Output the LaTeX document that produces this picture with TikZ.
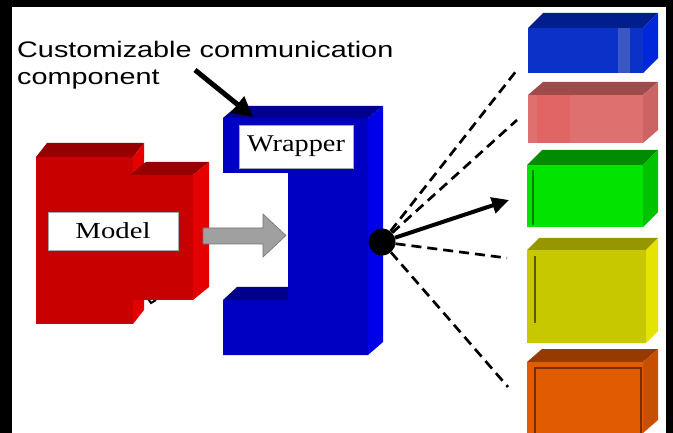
\documentclass[tikz,border=0pt]{standalone}
\usepackage{fontspec}
\usepackage{graphicx}
\setmainfont{Liberation Serif}
\newfontfamily\capfont{Liberation Sans}
\usetikzlibrary{arrows.meta}

% face colours: front / top / side
\definecolor{wrapfront}{RGB}{0,0,195}
\definecolor{wraptop}{RGB}{0,0,140}
\definecolor{wrapside}{RGB}{0,0,232}
\definecolor{modfront}{RGB}{200,0,0}
\definecolor{modtop}{RGB}{150,0,0}
\definecolor{modside}{RGB}{228,0,0}
\definecolor{bxafront}{RGB}{10,50,200}
\definecolor{bxatop}{RGB}{0,30,140}
\definecolor{bxaside}{RGB}{0,40,218}
\definecolor{bxbfront}{RGB}{222,112,112}
\definecolor{bxbtop}{RGB}{160,75,75}
\definecolor{bxbside}{RGB}{205,100,100}
\definecolor{bxcfront}{RGB}{0,228,0}
\definecolor{bxctop}{RGB}{0,140,0}
\definecolor{bxcside}{RGB}{0,195,0}
\definecolor{bxdfront}{RGB}{200,200,0}
\definecolor{bxdtop}{RGB}{150,150,0}
\definecolor{bxdside}{RGB}{228,228,0}
\definecolor{bxefront}{RGB}{225,92,0}
\definecolor{bxetop}{RGB}{150,58,0}
\definecolor{bxeside}{RGB}{198,80,0}
\definecolor{pushgray}{RGB}{160,160,160}

% a slab seen from upper right: #1,#2 front top-left; #3,#4 front bottom-right;
% #5,#6 depth offset; #7 colour prefix
\newcommand\slab[7]{%
  \fill[#7top] (#1,#2) -- ++(#5,-#6) -- ({#3+#5},{#2-#6}) -- (#3,#2) -- cycle;
  \fill[#7side] (#3,#2) -- ({#3+#5},{#2-#6}) -- ({#3+#5},{#4-#6}) -- (#3,#4) -- cycle;
  \fill[#7front] (#1,#2) rectangle (#3,#4);
}

\begin{document}
\begin{tikzpicture}[x=1pt,y=-1pt,
  labelbox/.style={draw=black!35,line width=0.6pt,fill=white,inner sep=0pt},
  captext/.style={anchor=base west,inner sep=0pt,font=\capfont\fontsize{22.5}{27}\selectfont},
  dashline/.style={line width=2.7pt,dash pattern=on 10pt off 6pt},
  boldarrow/.style={line width=4pt,-{Triangle[length=17pt,width=16pt]}},
  caparrow/.style={line width=5pt,-{Triangle[length=20pt,width=20pt]}}]
\useasboundingbox (0,0) rectangle (673,433);
\fill[black] (0,0) rectangle (673,433);
\fill[white] (12,7) rectangle (666,433);

% ---- model: two overlapping red slabs
\slab{36}{157}{133}{324}{11}{14}{mod}
\draw[line width=2pt] (146,296) -- (151,303) -- (156,300);
\slab{130}{175}{193}{300}{16}{13}{mod}
\node[labelbox,minimum width=130pt,minimum height=38pt] (model) at (113,231)
  {\scalebox{1.25}[1]{\fontsize{23}{27}\selectfont Model}};

% ---- grey push arrow from model into the wrapper
\fill[pushgray,draw=black!55,line width=0.6pt]
  (203,228) -- (263,228) -- (263,214) -- (286,235.5) -- (263,257) -- (263,244) -- (203,244) -- cycle;

% ---- wrapper: C-shaped blue block
\fill[wraptop] (223,118) -- (237,106) -- (383,106) -- (368,118) -- cycle;
\fill[wrapside] (368,118) -- (383,106) -- (383,342) -- (368,355) -- cycle;
\fill[wrapfront] (223,118) -- (368,118) -- (368,355) -- (223,355) -- (223,300)
  -- (288,300) -- (288,173) -- (223,173) -- cycle;
\fill[wraptop] (223,300) -- (237,287) -- (288,287) -- (288,300) -- cycle;
\node[labelbox,minimum width=114pt,minimum height=43pt] (wrapper) at (296,146.5)
  {\scalebox{1.18}[1]{\fontsize{24}{28}\selectfont Wrapper}};

% ---- caption and its pointer
\node[captext] (capA) at (17,58) {\scalebox{1.28}[1]{Customizable communication}};
\node[captext] (capB) at (17,85) {\scalebox{1.28}[1]{component}};
\coordinate (capfrom) at (195,70);
\coordinate (captip) at (253,117);
\draw[caparrow] (capfrom) -- (captip);

% ---- coloured target slabs
\slab{528}{28}{643}{73}{15}{15}{bxa}
\fill[black!10!bxafront!80!white] (618,28) rectangle (630,73);
\slab{528}{95}{643}{143}{15}{13}{bxb}
\fill[bxbfront!90!red] (537,95) rectangle (570,143);
\slab{527}{165}{643}{227}{15}{15}{bxc}
\draw[black!45!bxcfront,line width=1.2pt] (533,170) -- (533,225);
\slab{527}{250}{646}{343}{12}{12}{bxd}
\draw[black!55!bxdfront,line width=1.2pt] (535,256) -- (535,323);
\slab{527}{362}{643}{433}{15}{13}{bxe}
\draw[bxetop!80!black,line width=1.3pt] (535,433) -- (535,368) -- (641,368) -- (641,433);

% ---- port and its links
\node[circle,fill=black,minimum size=27pt,inner sep=0pt] (port) at (382,242) {};
\coordinate (tA) at (517,70);
\coordinate (tB) at (517,120);
\coordinate (tC) at (507,258);
\coordinate (tD) at (508,387);
\coordinate (tS) at (509,200);
\draw[dashline] (port) -- (tA);
\draw[dashline] (port) -- (tB);
\draw[dashline] (port) -- (tC);
\draw[dashline] (port) -- (tD);
\draw[boldarrow] (port) -- (tS);
\end{tikzpicture}
\end{document}
